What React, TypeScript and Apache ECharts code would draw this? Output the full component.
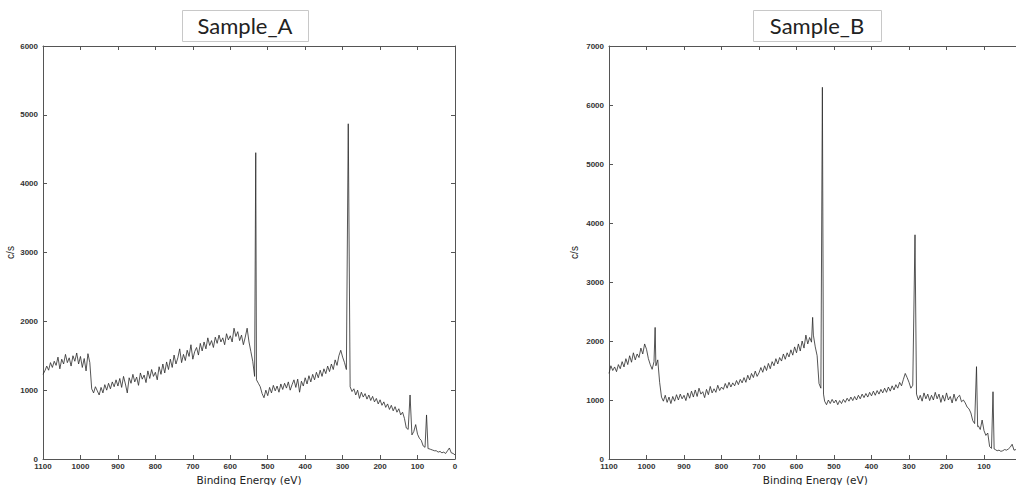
import React, { useEffect, useRef } from "react";
import * as echarts from "echarts";

// Sample_A spectrum: [binding energy (eV), counts per second]
const sampleA: [number, number][] = [
  [1100, 1230], [1095, 1280], [1090, 1350], [1085, 1290], [1080, 1400], [1075, 1330], [1070, 1420], [1065, 1360],
  [1060, 1480], [1055, 1310], [1050, 1450], [1045, 1380], [1040, 1520], [1035, 1400], [1030, 1470], [1025, 1350],
  [1020, 1500], [1015, 1420], [1010, 1540], [1005, 1380], [1000, 1490], [995, 1330], [990, 1460], [985, 1280],
  [980, 1530], [975, 1400], [970, 1020], [965, 960], [960, 1050], [955, 990], [950, 930], [945, 1040],
  [940, 960], [935, 1080], [930, 1000], [925, 1100], [920, 1020], [915, 1120], [910, 1050], [905, 1150],
  [900, 1060], [895, 1170], [890, 1040], [885, 1200], [880, 1090], [875, 960], [870, 1180], [865, 1100],
  [860, 1230], [855, 1120], [850, 1190], [845, 1070], [840, 1250], [835, 1160], [830, 1220], [825, 1110],
  [820, 1280], [815, 1170], [810, 1300], [805, 1200], [800, 1260], [795, 1150], [790, 1340], [785, 1230],
  [780, 1380], [775, 1250], [770, 1410], [765, 1300], [760, 1450], [755, 1330], [750, 1510], [745, 1380],
  [740, 1470], [735, 1600], [730, 1400], [725, 1520], [720, 1430], [715, 1580], [710, 1490], [705, 1660],
  [700, 1450], [695, 1560], [690, 1620], [685, 1510], [680, 1680], [675, 1570], [670, 1700], [665, 1600],
  [660, 1760], [655, 1650], [650, 1720], [645, 1620], [640, 1770], [635, 1680], [630, 1800], [625, 1700],
  [620, 1760], [615, 1660], [610, 1820], [605, 1730], [600, 1790], [595, 1700], [590, 1900], [585, 1780],
  [580, 1850], [575, 1720], [570, 1800], [565, 1660], [560, 1770], [555, 1900], [550, 1700], [545, 1560],
  [540, 1420], [535, 1200], [532, 4450], [530, 1150], [525, 1100], [520, 1050], [515, 950], [510, 890],
  [505, 1000], [500, 920], [495, 1040], [490, 960], [485, 1070], [480, 990], [475, 1060], [470, 970],
  [465, 1090], [460, 1010], [455, 1100], [450, 1030], [445, 1120], [440, 1000], [435, 1080], [430, 1150],
  [425, 1040], [420, 1160], [415, 970], [410, 1130], [405, 1060], [400, 1180], [395, 1090], [390, 1210],
  [385, 1120], [380, 1230], [375, 1150], [370, 1260], [365, 1180], [360, 1290], [355, 1200], [350, 1310],
  [345, 1240], [340, 1350], [335, 1270], [330, 1380], [325, 1300], [320, 1440], [315, 1360], [310, 1500],
  [305, 1580], [300, 1480], [295, 1400], [290, 1300], [285, 4870], [280, 1050], [275, 980], [270, 1020],
  [265, 930], [260, 1000], [255, 880], [250, 970], [245, 900], [240, 950], [235, 870], [230, 930],
  [225, 850], [220, 910], [215, 830], [210, 880], [205, 800], [200, 860], [195, 780], [190, 830],
  [185, 750], [180, 800], [175, 720], [170, 780], [165, 700], [160, 760], [155, 680], [150, 730],
  [145, 640], [140, 680], [135, 590], [130, 450], [125, 430], [120, 930], [115, 350], [110, 400],
  [105, 500], [100, 360], [95, 300], [90, 270], [85, 190], [80, 170], [76, 640], [72, 150],
  [70, 150], [65, 140], [60, 130], [55, 120], [50, 120], [45, 100], [40, 110], [35, 90],
  [30, 100], [25, 80], [20, 120], [15, 160], [10, 90], [5, 80], [0, 60],
];

// Sample_B spectrum: [binding energy (eV), counts per second]
const sampleB: [number, number][] = [
  [1100, 1450], [1095, 1580], [1090, 1500], [1085, 1560], [1080, 1480], [1075, 1600], [1070, 1530], [1065, 1650],
  [1060, 1560], [1055, 1700], [1050, 1600], [1045, 1750], [1040, 1640], [1035, 1800], [1030, 1680], [1025, 1780],
  [1020, 1720], [1015, 1880], [1010, 1780], [1005, 1950], [1000, 1860], [995, 1700], [990, 1600], [985, 1520],
  [980, 1650], [977, 2230], [975, 1580], [970, 1680], [965, 1300], [960, 1050], [955, 980], [950, 1080],
  [945, 960], [940, 1050], [935, 940], [930, 1060], [925, 980], [920, 1090], [915, 1000], [910, 1100],
  [905, 1020], [900, 1080], [895, 990], [890, 1120], [885, 1030], [880, 1150], [875, 1050], [870, 1170],
  [865, 1060], [860, 1200], [855, 1100], [850, 1140], [845, 1040], [840, 1180], [835, 1090], [830, 1230],
  [825, 1120], [820, 1190], [815, 1130], [810, 1250], [805, 1160], [800, 1220], [795, 1180], [790, 1280],
  [785, 1200], [780, 1300], [775, 1220], [770, 1290], [765, 1240], [760, 1330], [755, 1260], [750, 1350],
  [745, 1290], [740, 1380], [735, 1300], [730, 1420], [725, 1340], [720, 1450], [715, 1380], [710, 1490],
  [705, 1400], [700, 1460], [695, 1550], [690, 1470], [685, 1580], [680, 1500], [675, 1620], [670, 1530],
  [665, 1650], [660, 1580], [655, 1700], [650, 1610], [645, 1720], [640, 1660], [635, 1780], [630, 1690],
  [625, 1800], [620, 1730], [615, 1850], [610, 1760], [605, 1900], [600, 1800], [595, 1950], [590, 1830],
  [585, 2000], [580, 1880], [575, 2100], [570, 1950], [565, 2060], [560, 1980], [557, 2400], [555, 2100],
  [550, 1900], [545, 1750], [540, 1280], [535, 1200], [531, 6300], [528, 1100], [525, 980], [520, 920],
  [515, 1000], [510, 940], [505, 1010], [500, 950], [495, 1000], [490, 920], [485, 990], [480, 940],
  [475, 1010], [470, 960], [465, 1030], [460, 980], [455, 1050], [450, 990], [445, 1060], [440, 1000],
  [435, 1080], [430, 1020], [425, 1100], [420, 1040], [415, 1110], [410, 1050], [405, 1130], [400, 1070],
  [395, 1150], [390, 1080], [385, 1160], [380, 1100], [375, 1180], [370, 1120], [365, 1200], [360, 1130],
  [355, 1220], [350, 1150], [345, 1240], [340, 1170], [335, 1260], [330, 1200], [325, 1300], [320, 1240],
  [315, 1350], [310, 1450], [305, 1380], [300, 1300], [295, 1200], [290, 1250], [284, 3800], [280, 1100],
  [275, 1000], [270, 1080], [265, 980], [260, 1120], [255, 1020], [250, 1100], [245, 990], [240, 1080],
  [235, 1000], [230, 1130], [225, 1020], [220, 1100], [215, 960], [210, 1080], [205, 980], [200, 1120],
  [195, 1000], [190, 1060], [185, 950], [180, 1100], [175, 980], [170, 1050], [165, 1080], [160, 970],
  [155, 1000], [150, 950], [145, 880], [140, 850], [135, 780], [130, 650], [125, 600], [120, 1565],
  [117, 550], [115, 560], [110, 500], [105, 660], [100, 480], [95, 400], [90, 440], [85, 210],
  [80, 180], [76, 1140], [73, 170], [70, 160], [65, 140], [60, 150], [55, 130], [50, 140],
  [45, 160], [40, 150], [35, 170], [30, 200], [25, 250], [20, 150], [15, 160], [10, 140],
  [5, 150], [0, 130],
];

const titles = ["Sample_A", "Sample_B"];
const yMaxes = [6000, 7000];
const xName = "Binding Energy (eV)";
const yName = "c/s";

export default function App() {
  const ref = useRef<HTMLDivElement>(null);
  useEffect(() => {
    if (!ref.current) return;
    const chart = echarts.init(ref.current, null, { renderer: "svg" });
    const axisColor = "#555";
    const grids = [
      { left: 43, top: 46, width: 412, height: 413, outerBoundsMode: "none", containLabel: false },
      { left: 609, top: 46, width: 412.5, height: 413, outerBoundsMode: "none", containLabel: false },
    ];
    const labelStyle = {
      fontFamily: "Liberation Sans", fontSize: 8, fontWeight: "bold", color: "#333",
    };
    const xAxes: any[] = [];
    const yAxes: any[] = [];
    grids.forEach((_, i) => {
      xAxes.push({
        type: "value", gridIndex: i, min: 0, max: 1100, interval: 100, inverse: true,
        position: "bottom",
        name: xName, nameLocation: "middle", nameGap: 15,
        nameTextStyle: { fontFamily: "DejaVu Sans", fontSize: 10.5, color: "#222" },
        axisLine: { show: true, onZero: false, lineStyle: { color: axisColor, width: 1 } },
        axisTick: { show: true, inside: true, length: 4, lineStyle: { color: axisColor } },
        axisLabel: {
          show: true, margin: 3, ...labelStyle,
          // the right panel is cropped just before 0 eV, so its 0 label is not visible
          formatter: (v: number) => (i === 1 && v === 0 ? "" : String(v)),
        },
        splitLine: { show: false },
      });
      xAxes.push({
        type: "value", gridIndex: i, min: 0, max: 1100, interval: 100, inverse: true,
        position: "top",
        axisLine: { show: true, onZero: false, lineStyle: { color: axisColor, width: 1 } },
        axisTick: { show: true, inside: true, length: 4, lineStyle: { color: axisColor } },
        axisLabel: { show: false },
        splitLine: { show: false },
      });
      yAxes.push({
        type: "value", gridIndex: i, min: 0, max: yMaxes[i], interval: 1000,
        position: "left",
        name: yName, nameLocation: "middle", nameGap: i === 0 ? 28 : 30, nameRotate: 90,
        nameTextStyle: { fontFamily: "Liberation Sans", fontSize: 10, color: "#222" },
        axisLine: { show: true, onZero: false, lineStyle: { color: axisColor, width: 1 } },
        axisTick: { show: true, inside: true, length: 4, lineStyle: { color: axisColor } },
        axisLabel: { show: true, margin: 5, ...labelStyle, formatter: (v: number) => String(v) },
        splitLine: { show: false },
      });
      yAxes.push({
        type: "value", gridIndex: i, min: 0, max: yMaxes[i], interval: 1000,
        position: "right",
        axisLine: { show: true, onZero: false, lineStyle: { color: axisColor, width: 1 } },
        axisTick: { show: true, inside: true, length: 4, lineStyle: { color: axisColor } },
        axisLabel: { show: false },
        splitLine: { show: false },
      });
    });
    const data = [sampleA, sampleB];
    const series = data.map((d, i) => ({
      type: "line",
      xAxisIndex: i * 2,
      yAxisIndex: i * 2,
      data: d,
      showSymbol: false,
      lineStyle: { color: "#2a2a2a", width: 0.8 },
    }));
    const boxes = [
      { x: 182, y: 10, w: 126, h: 31 },
      { x: 753, y: 10, w: 128, h: 31 },
    ];
    const graphic: any[] = [];
    boxes.forEach((b, i) => {
      graphic.push({
        type: "rect", left: b.x, top: b.y, z: 10,
        shape: { width: b.w, height: b.h },
        style: { fill: "#fff", stroke: "#c8c8c8", lineWidth: 1 },
      });
      graphic.push({
        type: "text", x: b.x + b.w / 2, y: b.y + b.h / 2, z: 11,
        style: {
          text: titles[i], fontFamily: "Lato", fontSize: 22, fill: "#222",
          align: "center", verticalAlign: "middle",
        },
      });
    });
    chart.setOption({
      animation: false,
      backgroundColor: "#fff",
      grid: grids,
      xAxis: xAxes,
      yAxis: yAxes,
      series,
      graphic,
    });
    return () => chart.dispose();
  }, []);
  return (
    <div
      ref={ref}
      style={{ position: "absolute", left: 0, top: 0, width: 1016, height: 485 }}
    />
  );
}
